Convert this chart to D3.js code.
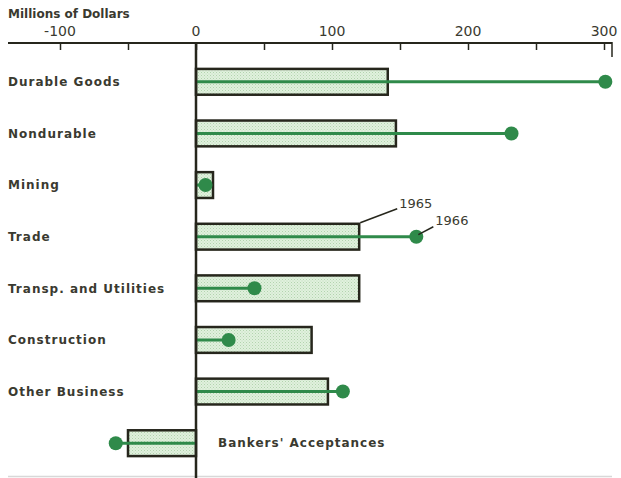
<!DOCTYPE html>
<html>
<head>
<meta charset="utf-8">
<script src="https://cdn.jsdelivr.net/npm/d3@7"></script>
<style>
  body { margin: 0; background: #fff; }
  text { font-family: "DejaVu Sans", sans-serif; font-weight: bold; fill: #3a3a30; }
</style>
</head>
<body>
<div class="chart"></div>
<script>
// data (millions of dollars)
var categories = ["Durable Goods", "Nondurable", "Mining", "Trade", "Transp. and Utilities",
    "Construction", "Other Business", "Bankers' Acceptances"];
var values1965 = [141, 147, 12.5, 120, 120, 85, 97, -50];
var values1966 = [301, 232, 7, 162, 43, 24, 108, -59];
var tickValues = [-100, 0, 100, 200, 300];
var minorTicks = [-100, -50, 0, 50, 100, 150, 200, 250, 300];

var svgWidth = 621;
var svgHeight = 478;

var svg = d3.select(".chart")
    .append("svg")
    .attr("width", svgWidth)
    .attr("height", svgHeight);

var defs = svg.append("defs");
var pat = defs.append("pattern")
    .attr("id", "dots")
    .attr("width", 3)
    .attr("height", 3)
    .attr("patternUnits", "userSpaceOnUse");
pat.append("rect").attr("width", 3).attr("height", 3).attr("fill", "#e0f1dd");
pat.append("rect").attr("width", 1).attr("height", 1).attr("fill", "#b3d3af");
pat.append("rect").attr("x", 1.5).attr("y", 1.5).attr("width", 1).attr("height", 1).attr("fill", "#c2dcbe");

var axisY = 43;

// scales
var x = d3.scaleLinear()
    .domain([-100, 300])
    .range([60, 604]);

var y = d3.scaleBand()
    .domain(categories)
    .range([56, 469])
    .paddingInner(0.5)
    .paddingOuter(0.25);

var ink = "#26261c";
var green = "#2f8a4a";

// top axis
var topAxis = d3.axisBottom(x)
    .tickValues(minorTicks)
    .tickSize(7)
    .tickFormat("");

var axisG = svg.append("g")
    .attr("transform", `translate(0, ${axisY})`)
    .call(topAxis);
axisG.select(".domain").remove();
axisG.selectAll("line").attr("stroke", ink).attr("stroke-width", 1.5);

svg.append("line")
    .attr("x1", 8).attr("x2", 612)
    .attr("y1", axisY).attr("y2", axisY)
    .attr("stroke", ink).attr("stroke-width", 2);
svg.append("line")
    .attr("x1", 612).attr("x2", 612)
    .attr("y1", axisY - 1).attr("y2", axisY + 14)
    .attr("stroke", ink).attr("stroke-width", 1.5);

svg.selectAll(".ticklabel")
    .data(tickValues)
    .enter()
    .append("text")
    .attr("class", "ticklabel")
    .attr("x", d => x(d))
    .attr("y", axisY - 7)
    .attr("text-anchor", "middle")
    .style("font-size", "14px")
    .style("font-weight", "normal")
    .text(d => d);

svg.append("text")
    .attr("x", 8)
    .attr("y", 18)
    .style("font-size", "12px")
    .text("Millions of Dollars");

// bottom faint rule
svg.append("line")
    .attr("x1", 8).attr("x2", 612)
    .attr("y1", 476.5).attr("y2", 476.5)
    .attr("stroke", "#d8d8d8").attr("stroke-width", 1.5);

// bars (1965)
svg.selectAll(".bar")
    .data(categories)
    .enter()
    .append("rect")
    .attr("class", "bar")
    .attr("x", (d, i) => x(Math.min(0, values1965[i])))
    .attr("y", d => y(d))
    .attr("width", (d, i) => Math.abs(x(values1965[i]) - x(0)))
    .attr("height", y.bandwidth())
    .attr("fill", "url(#dots)")
    .attr("stroke", ink)
    .attr("stroke-width", 2.5);

// lines and dots (1966)
svg.selectAll(".stem")
    .data(categories)
    .enter()
    .append("line")
    .attr("class", "stem")
    .attr("x1", x(0))
    .attr("x2", (d, i) => x(values1966[i]))
    .attr("y1", d => y(d) + y.bandwidth() / 2)
    .attr("y2", d => y(d) + y.bandwidth() / 2)
    .attr("stroke", green)
    .attr("stroke-width", 3);

svg.selectAll(".dot")
    .data(categories)
    .enter()
    .append("circle")
    .attr("class", "dot")
    .attr("cx", (d, i) => x(values1966[i]))
    .attr("cy", d => y(d) + y.bandwidth() / 2)
    .attr("r", 7)
    .attr("fill", green);

// zero line
svg.append("line")
    .attr("x1", x(0)).attr("x2", x(0))
    .attr("y1", axisY).attr("y2", svgHeight)
    .attr("stroke", ink).attr("stroke-width", 2.5);

// category labels
svg.selectAll(".cat")
    .data(categories)
    .enter()
    .append("text")
    .attr("class", "cat")
    .attr("x", (d, i) => values1965[i] < 0 ? x(0) + 22 : 8)
    .attr("y", d => y(d) + y.bandwidth() / 2)
    .attr("dy", "0.35em")
    .style("font-size", "12px")
    .style("letter-spacing", "1px")
    .text(d => d);

// year annotations on Trade row
var tradeIdx = categories.indexOf("Trade");
var tradeY = y("Trade");
var x65 = x(values1965[tradeIdx]);
var x66 = x(values1966[tradeIdx]);

svg.append("line")
    .attr("x1", x65 + 1).attr("y1", tradeY - 1)
    .attr("x2", x65 + 38).attr("y2", tradeY - 15)
    .attr("stroke", ink).attr("stroke-width", 1.5);
svg.append("text")
    .attr("x", x65 + 40)
    .attr("y", tradeY - 16)
    .style("font-size", "13px")
    .style("font-weight", "normal")
    .text("1965");

svg.append("line")
    .attr("x1", x66 + 2).attr("y1", tradeY + y.bandwidth() / 2 - 2)
    .attr("x2", x66 + 17).attr("y2", tradeY + 3)
    .attr("stroke", ink).attr("stroke-width", 1.5);
svg.append("text")
    .attr("x", x66 + 19)
    .attr("y", tradeY + 1)
    .style("font-size", "13px")
    .style("font-weight", "normal")
    .text("1966");
</script>
</body>
</html>
